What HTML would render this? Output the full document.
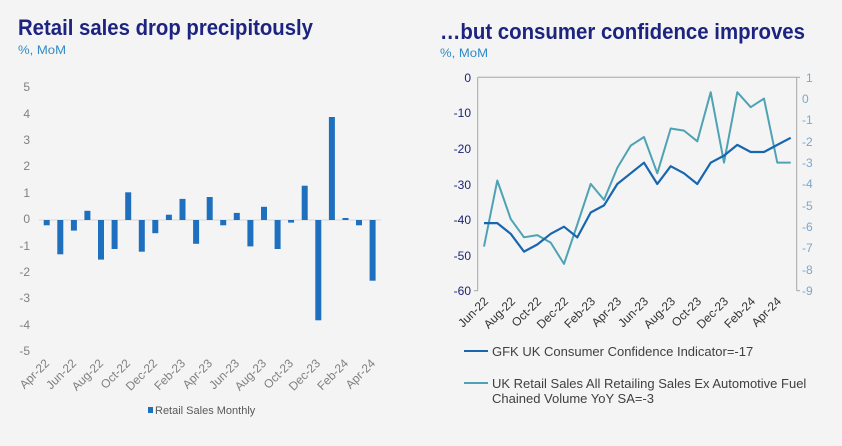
<!DOCTYPE html>
<html><head><meta charset="utf-8"><style>
body{margin:0;background:#f4f4f4;}
svg{display:block;font-family:"Liberation Sans",Arial,sans-serif;}
</style></head><body>
<svg width="842" height="446" viewBox="0 0 842 446">
<rect width="842" height="446" fill="#f4f4f4"/>
<text x="18" y="35" font-size="22" font-weight="bold" fill="#1c2480" textLength="295" lengthAdjust="spacingAndGlyphs">Retail sales drop precipitously</text>
<text x="18" y="54" font-size="12" fill="#2f8ac6" textLength="48" lengthAdjust="spacingAndGlyphs">%, MoM</text>
<text x="440" y="39" font-size="22" font-weight="bold" fill="#1c2480" textLength="365" lengthAdjust="spacingAndGlyphs">…but consumer confidence improves</text>
<text x="440" y="57" font-size="12" fill="#2f8ac6" textLength="48" lengthAdjust="spacingAndGlyphs">%, MoM</text>

<!-- left chart -->
<g font-size="12" fill="#808080" text-anchor="end">
<text x="30" y="91">5</text><text x="30" y="118">4</text><text x="30" y="144">3</text><text x="30" y="170">2</text><text x="30" y="197">1</text><text x="30" y="223">0</text><text x="30" y="250">-1</text><text x="30" y="276">-2</text><text x="30" y="302">-3</text><text x="30" y="329">-4</text><text x="30" y="355">-5</text>
</g>
<line x1="39" y1="220" x2="381" y2="220" stroke="#d9d9d9" stroke-width="1"/>
<g fill="#1f6fbf">
<rect x="43.7" y="220" width="6" height="5.3"/>
<rect x="57.3" y="220" width="6" height="34.3"/>
<rect x="70.9" y="220" width="6" height="10.6"/>
<rect x="84.4" y="210.8" width="6" height="9.2"/>
<rect x="98" y="220" width="6" height="39.6"/>
<rect x="111.6" y="220" width="6" height="29"/>
<rect x="125.2" y="192.3" width="6" height="27.7"/>
<rect x="138.8" y="220" width="6" height="31.7"/>
<rect x="152.3" y="220" width="6" height="13.2"/>
<rect x="165.9" y="214.7" width="6" height="5.3"/>
<rect x="179.5" y="198.9" width="6" height="21.1"/>
<rect x="193.1" y="220" width="6" height="23.8"/>
<rect x="206.7" y="197" width="6" height="23"/>
<rect x="220.2" y="220" width="6" height="5.3"/>
<rect x="233.8" y="212.9" width="6" height="7.1"/>
<rect x="247.4" y="220" width="6" height="26.4"/>
<rect x="261" y="206.8" width="6" height="13.2"/>
<rect x="274.6" y="220" width="6" height="29"/>
<rect x="288.1" y="220" width="6" height="2.6"/>
<rect x="301.7" y="185.7" width="6" height="34.3"/>
<rect x="315.3" y="220" width="6" height="100.3"/>
<rect x="328.9" y="117" width="6" height="103"/>
<rect x="342.5" y="218" width="6" height="2"/>
<rect x="356" y="220" width="6" height="5.3"/>
<rect x="369.6" y="220" width="6" height="60.7"/>
</g>
<g font-size="12" fill="#808080" text-anchor="end">
<text transform="translate(50,364) rotate(-45)">Apr-22</text>
<text transform="translate(77,364) rotate(-45)">Jun-22</text>
<text transform="translate(104,364) rotate(-45)">Aug-22</text>
<text transform="translate(131,364) rotate(-45)">Oct-22</text>
<text transform="translate(158,364) rotate(-45)">Dec-22</text>
<text transform="translate(186,364) rotate(-45)">Feb-23</text>
<text transform="translate(213,364) rotate(-45)">Apr-23</text>
<text transform="translate(240,364) rotate(-45)">Jun-23</text>
<text transform="translate(267,364) rotate(-45)">Aug-23</text>
<text transform="translate(294,364) rotate(-45)">Oct-23</text>
<text transform="translate(321,364) rotate(-45)">Dec-23</text>
<text transform="translate(349,364) rotate(-45)">Feb-24</text>
<text transform="translate(376,364) rotate(-45)">Apr-24</text>
</g>
<rect x="148" y="407" width="5" height="6" fill="#1f6fbf"/>
<text x="155" y="414" font-size="11" fill="#595959">Retail Sales Monthly</text>

<!-- right chart -->
<line x1="477.7" y1="77.3" x2="477.7" y2="290.7" stroke="#a6a6a6"/>
<line x1="796.7" y1="77.3" x2="796.7" y2="290.7" stroke="#a6a6a6"/>
<line x1="477.7" y1="77.3" x2="796.7" y2="77.3" stroke="#a6a6a6"/>
<g stroke="#a6a6a6">
<line x1="474" y1="290.7" x2="477.7" y2="290.7"/>
<line x1="796.7" y1="77.3" x2="800" y2="77.3"/><line x1="796.7" y1="290.7" x2="800" y2="290.7"/>
</g>
<g font-size="12" fill="#1c2470" text-anchor="end">
<text x="471" y="82">0</text><text x="471" y="117">-10</text><text x="471" y="153">-20</text><text x="471" y="189">-30</text><text x="471" y="224">-40</text><text x="471" y="260">-50</text><text x="471" y="295">-60</text>
</g>
<g font-size="12" fill="#7ba7c9">
<text x="806" y="82">1</text><text x="802" y="103">0</text><text x="802" y="124">-1</text><text x="802" y="146">-2</text><text x="802" y="167">-3</text><text x="802" y="188">-4</text><text x="802" y="210">-5</text><text x="802" y="231">-6</text><text x="802" y="252">-7</text><text x="802" y="274">-8</text><text x="802" y="295">-9</text>
</g>
<polyline fill="none" stroke="#4fa2b4" stroke-width="2" stroke-linejoin="round" points="484,246.6 497.3,180.5 510.7,218.9 524,237.3 537.3,235.1 550.7,242.6 564,263.9 577.3,224.5 590.7,183.9 604,199.9 617.3,167.9 630.7,145.6 644,137 657.3,173.3 670.7,128.5 684,130.6 697.3,141.3 710.7,92.2 724,162.6 737.3,92.2 750.7,107.2 764,98.6 777.3,162.6 790.7,162.6"/>
<polyline fill="none" stroke="#1866ae" stroke-width="2.2" stroke-linejoin="round" points="484,223.1 497.3,223.1 510.7,233.8 524,251.6 537.3,244.5 550.7,233.8 564,226.7 577.3,237.4 590.7,212.5 604,205.4 617.3,184 630.7,173.3 644,162.7 657.3,184 670.7,166.2 684,173.3 697.3,184 710.7,162.7 724,155.6 737.3,144.9 750.7,152 764,152 777.3,144.9 790.7,137.8"/>
<g font-size="12" fill="#333" text-anchor="end">
<text transform="translate(489,302) rotate(-45)">Jun-22</text>
<text transform="translate(516,302) rotate(-45)">Aug-22</text>
<text transform="translate(542,302) rotate(-45)">Oct-22</text>
<text transform="translate(569,302) rotate(-45)">Dec-22</text>
<text transform="translate(596,302) rotate(-45)">Feb-23</text>
<text transform="translate(622,302) rotate(-45)">Apr-23</text>
<text transform="translate(649,302) rotate(-45)">Jun-23</text>
<text transform="translate(676,302) rotate(-45)">Aug-23</text>
<text transform="translate(702,302) rotate(-45)">Oct-23</text>
<text transform="translate(729,302) rotate(-45)">Dec-23</text>
<text transform="translate(756,302) rotate(-45)">Feb-24</text>
<text transform="translate(782,302) rotate(-45)">Apr-24</text>
</g>
<line x1="464" y1="351" x2="488" y2="351" stroke="#1866ae" stroke-width="2"/>
<text x="492" y="356" font-size="13" fill="#404040">GFK UK Consumer Confidence Indicator=-17</text>
<line x1="464" y1="383" x2="488" y2="383" stroke="#4fa2b4" stroke-width="2"/>
<text x="492" y="388" font-size="13" fill="#404040">UK Retail Sales All Retailing Sales Ex Automotive Fuel</text>
<text x="492" y="403" font-size="13" fill="#404040">Chained Volume YoY SA=-3</text>
</svg>
</body></html>
